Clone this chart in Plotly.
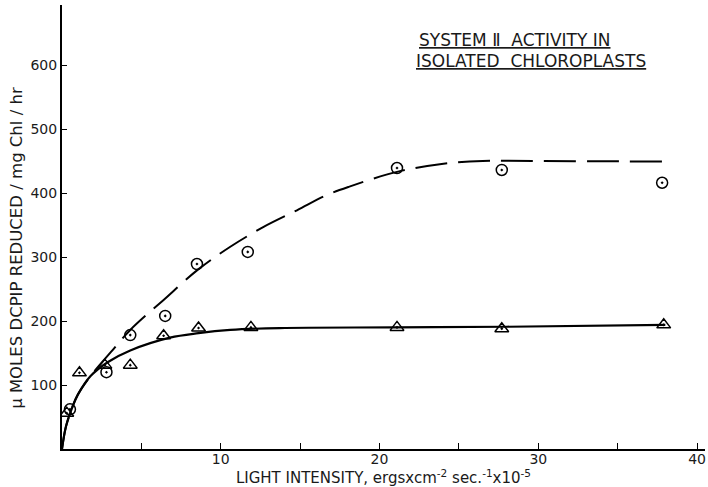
import plotly.graph_objects as go

circ_x = [0.5, 2.8, 4.3, 6.5, 8.5, 11.7, 21.1, 27.7, 37.8]
circ_y = [62, 120, 178, 208, 289, 308, 439, 436, 416]
tri_x = [0.3, 1.1, 2.7, 4.3, 6.4, 8.6, 11.9, 21.1, 27.7, 37.9]
tri_y = [56, 119, 131, 131, 177, 189, 190, 190, 188, 194]

# Hand-drawn curves
solid_x = [0, 0.25, 0.66, 1.0, 1.8, 2.9, 4.3, 6.8, 8.6, 10.6, 13.7, 21, 28, 38]
solid_y = [0, 35, 66, 85, 114, 136, 154, 174, 181, 186, 189, 190, 191, 194]
dash_x = [0, 0.25, 0.66, 1.0, 1.8, 3.1, 4.3, 6.4, 8.6, 10.6, 12.7, 14.8, 16.7, 18.1,
          21.1, 23.8, 26.5, 30, 38]
dash_y = [0, 35, 66, 85, 114, 152, 186, 233, 281, 316, 347, 373, 397, 410,
          433, 445, 450, 450, 449]

x_ticks = [10, 20, 30, 40]
x_labels = ["10", "20", "30", "40"]
y_ticks = [100, 200, 300, 400, 500, 600]

FONT = "DejaVu Sans"
INK = "#1a1a1a"

fig = go.Figure()
fig.add_trace(go.Scatter(x=dash_x, y=dash_y, mode="lines", line_shape="spline",
                         line=dict(color="black", width=2, dash="32px,11px")))
fig.add_trace(go.Scatter(x=solid_x, y=solid_y, mode="lines", line_shape="spline",
                         line=dict(color="black", width=2.2)))
fig.add_trace(go.Scatter(x=circ_x, y=circ_y, mode="markers",
                         marker=dict(symbol="circle-open-dot", size=11, color="black",
                                     line=dict(width=1.5, color="black"))))
fig.add_trace(go.Scatter(x=tri_x, y=tri_y, mode="markers",
                         marker=dict(symbol="triangle-up-open-dot", size=12, color="black",
                                     line=dict(width=1.5, color="black"))))

fig.update_layout(
    width=708, height=487,
    margin=dict(l=62, r=3, t=5, b=38),
    paper_bgcolor="white", plot_bgcolor="white",
    showlegend=False,
    font=dict(family=FONT, color=INK, size=14),
    xaxis=dict(range=[0, 40.5], showgrid=False, zeroline=False,
               showline=True, linecolor="black", linewidth=2,
               tickmode="array", tickvals=x_ticks, ticktext=x_labels,
               ticks="inside", ticklen=6, tickcolor="black",
               minor=dict(ticks="inside", ticklen=6, tickcolor="black",
                          tick0=0, dtick=5, showgrid=False),
               tickfont=dict(size=14), ticklabelstandoff=-4,
               title=dict(text="LIGHT INTENSITY, ergsxcm<sup>-2</sup> sec.<sup>-1</sup>x10<sup>-5</sup>",
                          font=dict(size=15), standoff=0)),
    yaxis=dict(range=[0, 693.75], showgrid=False, zeroline=False,
               showline=True, linecolor="black", linewidth=2,
               tickmode="array", tickvals=y_ticks,
               ticks="inside", ticklen=5, tickcolor="black",
               tickfont=dict(size=14)),
)

fig.add_annotation(
    xref="paper", yref="paper", x=-0.07, y=0.453, xanchor="center", yanchor="middle",
    showarrow=False, textangle=-90,
    text="\u03bc MOLES DCPIP REDUCED / mg Chl / hr",
    font=dict(family=FONT, size=16.5, color=INK),
)

fig.add_annotation(
    xref="paper", yref="paper", x=(417 - 62) / 643, y=(449 - 40) / 444,
    xanchor="left", yanchor="middle", showarrow=False,
    text='<span style="text-decoration:underline">SYSTEM \u2161  ACTIVITY IN</span>',
    font=dict(family=FONT, size=17, color=INK),
)
fig.add_annotation(
    xref="paper", yref="paper", x=(414 - 62) / 643, y=(449 - 61) / 444,
    xanchor="left", yanchor="middle", showarrow=False,
    text='<span style="text-decoration:underline">ISOLATED  CHLOROPLASTS</span>',
    font=dict(family=FONT, size=17, color=INK),
)

fig.write_html("out.html")
